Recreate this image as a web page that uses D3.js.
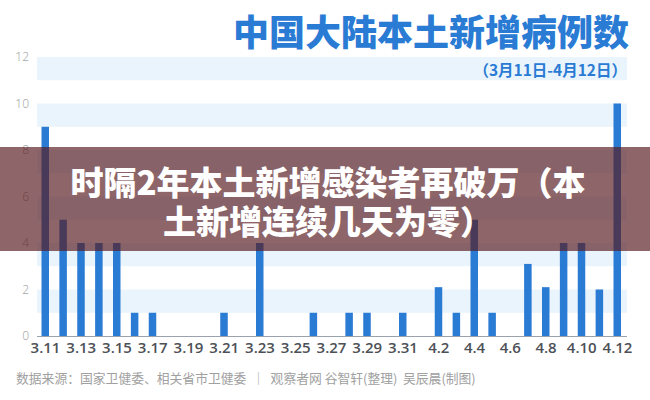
<!DOCTYPE html>
<html><head><meta charset="utf-8">
<script src="https://cdn.jsdelivr.net/npm/d3@7"></script>
<style>html,body{margin:0;padding:0;background:#fff;}svg{display:block;}</style>
</head><body>
<svg id="c" width="650" height="400"></svg>
<script>
const dates = ["3.11","3.12","3.13","3.14","3.15","3.16","3.17","3.18","3.19","3.20","3.21","3.22","3.23","3.24","3.25","3.26","3.27","3.28","3.29","3.30","3.31","4.1","4.2","4.3","4.4","4.5","4.6","4.7","4.8","4.9","4.10","4.11","4.12"];
const values = [9,5,4,4,4,1,1,0,0,0,1,0,4,0,0,1,0,1,1,0,1,0,2.1,1,5,1,0,3.1,2.1,4,4,2,10];
const yTicks = [0,2,4,6,8,10,12];
const xTickLabels = ["3.11","3.13","3.15","3.17","3.19","3.21","3.23","3.25","3.27","3.29","3.31","4.2","4.4","4.6","4.8","4.10","4.12"];
const bandRanges = [[1,2],[3,4],[5,6],[7,8],[9,10],[11,12]];
const title = "中国大陆本土新增病例数";
const subtitle = "（3月11日-4月12日）";
const source = "数据来源：国家卫健委、相关省市卫健委  ｜  观察者网 谷智轩(整理)  吴辰晨(制图)";
const overlayLines = ["时隔2年本土新增感染者再破万（本","土新增连续几天为零）"];

const svg = d3.select("#c");
const cjk = "'Noto Sans CJK SC','Noto Sans',sans-serif";
const x = d3.scalePoint().domain(dates).range([45,617]);
const y = d3.scaleLinear().domain([0,12]).range([336,57]);

// bands
svg.append("g").selectAll("rect").data(bandRanges).join("rect")
  .attr("x",37).attr("width",590)
  .attr("y",d=>y(d[1])).attr("height",d=>y(d[0])-y(d[1]))
  .attr("fill","#e9f4fd");

// y axis labels
const ya = svg.append("g").attr("transform","translate(29,0)")
  .call(d3.axisLeft(y).tickValues(yTicks).tickSize(0).tickPadding(0));
ya.select(".domain").remove();
ya.selectAll("text").attr("fill","#a8a8a8").style("font-family","'Noto Sans',sans-serif").style("font-size","12px").style("font-weight","300");

// baseline
svg.append("line").attr("x1",37).attr("x2",627).attr("y1",y(0)+0.5).attr("y2",y(0)+0.5)
  .attr("stroke","#9aa3ad").attr("stroke-width",1);

// bars
svg.append("g").selectAll("rect").data(dates).join("rect")
  .attr("x",(d)=>x(d)-3.5).attr("width",7.5)
  .attr("y",(d,i)=>y(values[i])).attr("height",(d,i)=>y(0)-y(values[i]))
  .attr("fill","#2a7bd4");

// x axis
const xa = svg.append("g").attr("transform",`translate(0,${y(0)})`)
  .call(d3.axisBottom(x).tickValues(xTickLabels).tickSize(0).tickPadding(6));
xa.select(".domain").remove();
xa.selectAll("text").attr("fill","#4d5157").style("font-family","'Open Sans','Noto Sans',sans-serif").style("font-size","15px").style("font-weight","600");

// title
svg.append("text").attr("x",629).attr("y",46).attr("text-anchor","end")
  .style("font-family",cjk).style("font-size","36px").style("font-weight","900")
  .attr("fill","#2a7bd4").text(title);
svg.append("text").attr("x",627).attr("y",76).attr("text-anchor","end")
  .style("font-family",cjk).style("font-size","15.5px").style("font-weight","700")
  .attr("fill","#2a7bd4").text(subtitle);

// source
svg.append("text").attr("x",16).attr("y",383)
  .style("font-family",cjk).style("font-size","12.8px").style("font-weight","400")
  .attr("fill","#a0a0a0").attr("xml:space","preserve").text(source);

// overlay
svg.append("rect").attr("x",0).attr("y",147).attr("width",650).attr("height",104)
  .attr("fill","rgba(88,28,32,0.68)");
const ot = svg.append("text").attr("text-anchor","middle")
  .style("font-family",cjk).style("font-size","33px").style("font-weight","900")
  .attr("fill","#ffffff");
ot.selectAll("tspan").data(overlayLines).join("tspan")
  .attr("x",328).attr("y",(d,i)=>195+i*39).text(d=>d);
</script>
</body></html>
